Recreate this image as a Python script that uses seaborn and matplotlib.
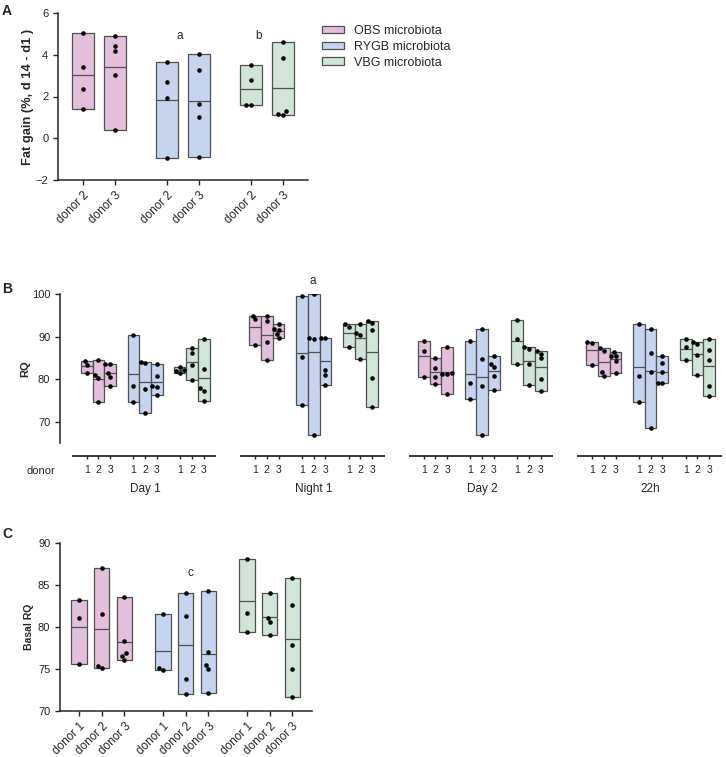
#Fat gain and RQ per donor microbiota - floating bars (min to max, line at mean)

import numpy as np
import pandas as pd
import matplotlib
matplotlib.use("Agg")
import matplotlib.pyplot as plt
import seaborn as sns
from matplotlib.patches import Patch

groups = ["OBS", "RYGB", "VBG"]
group_labels = ["OBS microbiota", "RYGB microbiota", "VBG microbiota"]
colors = ["#e2bfdb", "#c6d4ef", "#d0e4d7"]

# A: fat gain (%, d14 - d1), donors 2 and 3
fat_donors = ["donor 2", "donor 3"]
fat_obs = [[5.02, 3.42, 2.35, 1.39], [4.91, 4.43, 4.20, 3.04, 0.40]]
fat_rygb = [[3.65, 2.70, 1.95, -0.93], [4.03, 3.25, 1.62, 1.04, -0.91]]
fat_vbg = [[3.50, 2.77, 1.58, 1.58], [4.62, 3.86, 1.30, 1.12, 1.15]]

# B: RQ per period, [period][donor]
periods = ["Day 1", "Night 1", "Day 2", "22h"]
rq_donors = ["1", "2", "3"]
rq_obs = [
    [[84.3, 83.3, 81.5], [84.5, 81.1, 80.4, 74.6], [83.5, 83.7, 81.5, 80.5, 78.4]],
    [[95.0, 94.1, 88.0], [95.0, 93.7, 88.8, 84.5], [93.1, 91.9, 91.7, 90.6, 89.6]],
    [[89.1, 86.7, 80.5], [85.1, 82.6, 80.5, 78.8], [87.6, 81.2, 81.3, 81.4, 76.6]],
    [[88.8, 88.6, 83.3], [87.3, 86.6, 81.7, 80.7], [86.5, 85.5, 85.5, 84.4, 81.5]],
]
rq_rygb = [
    [[90.4, 78.4, 74.6], [83.9, 84.1, 77.6, 72.1], [83.5, 80.8, 78.3, 78.2, 76.3]],
    [[99.6, 85.2, 73.9], [100.0, 89.8, 89.4, 66.8], [89.7, 89.8, 82.2, 81.1, 78.6]],
    [[89.0, 79.2, 75.3], [91.8, 84.7, 78.4, 66.9], [85.5, 83.7, 82.9, 80.8, 77.4]],
    [[93.0, 80.8, 74.6], [91.8, 86.1, 81.7, 68.6], [85.5, 83.8, 81.6, 79.1, 79.1]],
]
rq_vbg = [
    [[82.9, 82.2, 82.0, 81.5], [86.2, 87.4, 83.3, 79.8], [89.5, 82.3, 78.0, 77.2, 74.9]],
    [[92.9, 92.2, 87.7], [93.1, 90.8, 90.5, 84.8], [93.6, 93.2, 91.6, 80.3, 73.5]],
    [[93.9, 89.4, 83.7], [87.2, 87.5, 83.7, 78.7], [86.6, 86.0, 84.9, 80.1, 77.2]],
    [[89.5, 87.7, 84.5], [88.4, 88.8, 85.8, 81.0], [89.5, 87.0, 84.5, 78.4, 76.1]],
]

# C: basal RQ, donors 1-3
basal_donors = ["donor 1", "donor 2", "donor 3"]
basal_obs = [[83.2, 81.1, 75.6], [87.1, 81.5, 75.4, 75.1], [83.6, 78.3, 76.9, 76.5, 76.0]]
basal_rygb = [[81.5, 74.9, 75.1], [84.1, 81.3, 73.8, 72.0], [84.3, 77.0, 75.5, 75.0, 72.1]]
basal_vbg = [[88.1, 81.7, 79.4], [84.1, 81.1, 80.6, 79.1], [85.8, 82.6, 77.8, 75.0, 71.6]]

sns.set_style("ticks")
plt.rcParams["font.family"] = ["Liberation Sans", "DejaVu Sans"]
plt.rcParams["axes.linewidth"] = 1.1
plt.rcParams["xtick.major.width"] = 1.0
plt.rcParams["ytick.major.width"] = 1.0
plt.rcParams["xtick.major.size"] = 3.5
plt.rcParams["ytick.major.size"] = 3.5

W, H = 726, 757
fig = plt.figure(figsize=(W / 100, H / 100), dpi=100)


def px_axes(left, top, right, bottom):
    return fig.add_axes([left / W, 1 - bottom / H, (right - left) / W, (bottom - top) / H])


def to_frame(blocks, xpos):
    rows = []
    for vals, x, g in zip(blocks, xpos, range(len(blocks))):
        for v in vals:
            rows.append({"x": x, "value": v, "grp": g})
    return pd.DataFrame(rows)


def floating(ax, df, width, colmap):
    for x, sub in df.groupby("x"):
        lo, hi, mean = sub["value"].min(), sub["value"].max(), sub["value"].mean()
        c = colmap[sub["grp"].iloc[0]]
        ax.bar(x, hi - lo, bottom=lo, width=width, color=c, edgecolor="#505050",
               linewidth=0.9, zorder=1)
        ax.hlines(mean, x - width / 2, x + width / 2, color="#505050", linewidth=0.9, zorder=2)
    sns.swarmplot(data=df, x="x", y="value", native_scale=True, orient="x",
                  color="black", size=3.3, ax=ax, zorder=3)
    ax.set_xlabel("")
    ax.set_ylabel("")


tick_fs = 8

# ---------- A ----------
axA = px_axes(58, 13, 308, 180)
a_blocks, a_x, a_col = [], [], []
for g, data in enumerate([fat_obs, fat_rygb, fat_vbg]):
    for d, vals in enumerate(data):
        a_blocks.append(vals)
        a_x.append(g * 2.625 + d)
        a_col.append(colors[g])
dfA = to_frame(a_blocks, a_x)
floating(axA, dfA, 0.675, a_col)
axA.set_xlim(-0.78, 7.03)
axA.set_ylim(-2, 6)
axA.set_yticks([-2, 0, 2, 4, 6])
axA.set_xticks(a_x)
axA.set_xticklabels(fat_donors * 3, rotation=45, ha="right", rotation_mode="anchor",
                    fontsize=8.5)
axA.tick_params(axis="y", labelsize=tick_fs)
axA.set_ylabel("Fat gain (%, d 14 - d1 )", fontsize=9.3, fontweight="bold", labelpad=1)
axA.text(3.03, 4.9, "a", ha="center", va="center", fontsize=8.5)
axA.text(5.5, 4.9, "b", ha="center", va="center", fontsize=8.5)
sns.despine(ax=axA)

handles = [Patch(facecolor=c, edgecolor="#505050", linewidth=0.9) for c in colors]
fig.legend(handles, group_labels, loc="upper left", bbox_to_anchor=(322 / W, 1 - 25 / H),
           frameon=False, fontsize=9, handlelength=1.75, handleheight=0.55,
           handletextpad=0.85, labelspacing=0.3, borderpad=0, borderaxespad=0)

# ---------- B ----------
axB = px_axes(60, 294.3, 726, 443)
period_step, group_step = 14.4, 4.0
b_blocks, b_x, b_col = [], [], []
for p in range(len(periods)):
    for g, data in enumerate([rq_obs, rq_rygb, rq_vbg]):
        for d, vals in enumerate(data[p]):
            b_blocks.append(vals)
            b_x.append(p * period_step + g * group_step + d)
            b_col.append(colors[g])
dfB = to_frame(b_blocks, b_x)
floating(axB, dfB, 1.0, b_col)
axB.set_xlim(-2.28, 54.64)
axB.set_ylim(65, 100)
axB.set_yticks([70, 80, 90, 100])
axB.tick_params(axis="y", labelsize=tick_fs)
axB.spines["top"].set_visible(False)
axB.spines["right"].set_visible(False)
axB.spines["bottom"].set_position(("outward", 9.1))
axB.spines["bottom"].set_visible(False)
axB.set_xticks(b_x)
axB.set_xticklabels(rq_donors * 12, fontsize=7.5)
axB.tick_params(axis="x", length=2.5, pad=4.5)
seg_tr = axB.get_xaxis_transform(which="tick1")
for p, name in enumerate(periods):
    x0 = p * period_step
    axB.plot([x0 - 1.26, x0 + 2 * group_step + 2 + 1.09], [0, 0], transform=seg_tr,
             color="black", linewidth=1.1, clip_on=False, solid_capstyle="butt")
    axB.annotate(name, xy=(x0 + group_step + 1, 0), xycoords=seg_tr, xytext=(0, -24),
                 textcoords="offset points", ha="center", va="center", fontsize=8.5,
                 annotation_clip=False)
axB.text(period_step + group_step + 0.9, 103.1, "a", ha="center", va="center",
         fontsize=8.5, clip_on=False)
axB.set_ylabel("RQ", fontsize=8, fontweight="bold", labelpad=1)
fig.text(41 / W, 1 - 471 / H, "donor", ha="center", va="center", fontsize=8)

# ---------- C ----------
axC = px_axes(60, 543.3, 311.7, 710.7)
c_blocks, c_x, c_col = [], [], []
for g, data in enumerate([basal_obs, basal_rygb, basal_vbg]):
    for d, vals in enumerate(data):
        c_blocks.append(vals)
        c_x.append(g * 3.7 + d)
        c_col.append(colors[g])
dfC = to_frame(c_blocks, c_x)
floating(axC, dfC, 0.675, c_col)
axC.set_xlim(-0.84, 10.25)
axC.set_ylim(70, 90)
axC.set_yticks([70, 75, 80, 85, 90])
axC.set_xticks(c_x)
axC.set_xticklabels(basal_donors * 3, rotation=45, ha="right", rotation_mode="anchor",
                    fontsize=8.5)
axC.tick_params(axis="y", labelsize=tick_fs)
axC.text(4.92, 86.4, "c", ha="center", va="center", fontsize=8.5)
axC.set_ylabel("Basal RQ", fontsize=7.5, fontweight="bold", labelpad=3)
sns.despine(ax=axC)

for lbl, ytop in [("A", 4), ("B", 282), ("C", 527)]:
    fig.text(2 / W, 1 - ytop / H, lbl, ha="left", va="top", fontsize=10, fontweight="bold")

fig.savefig("out.png", dpi=100)
